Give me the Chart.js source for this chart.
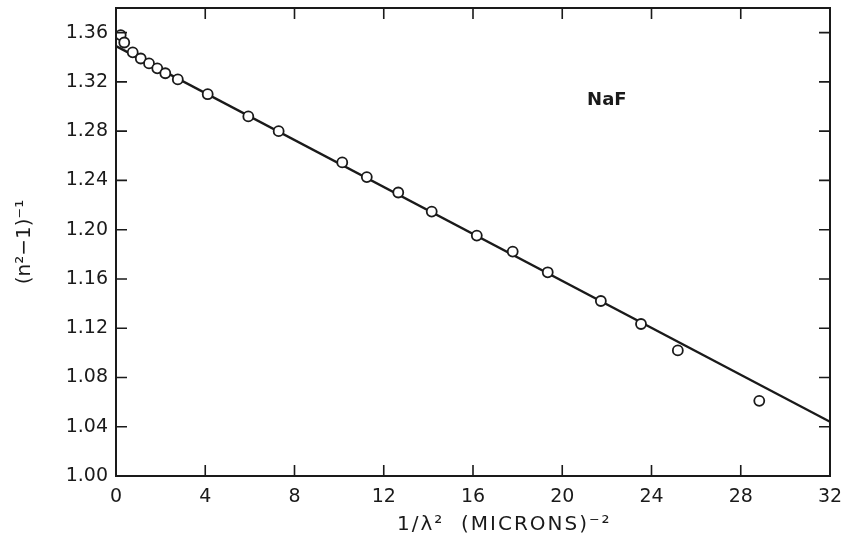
<!DOCTYPE html>
<html lang="en">
<head>
  <meta charset="UTF-8">
  <title>NaF dispersion</title>
  <script src="https://cdn.jsdelivr.net/npm/chart.js"></script>
  <style>
    html, body { margin: 0; padding: 0; background: #fff; }
    #wrap { width: 843px; height: 546px; }
  </style>
</head>
<body>
  <div id="wrap"><canvas id="nafChart" width="843" height="546"></canvas></div>

  <script>
    // measured points, 1/lambda^2 (microns^-2) vs (n^2-1)^-1
    const invLambdaSq = [0.21, 0.37, 0.75, 1.11, 1.48, 1.85, 2.21, 2.77, 4.11, 5.93, 7.29,
      10.14, 11.24, 12.65, 14.15, 16.17, 17.78, 19.35, 21.73, 23.53, 25.18, 28.83];
    const invNSqMinus1 = [1.358, 1.352, 1.344, 1.339, 1.335, 1.331, 1.327, 1.322, 1.310, 1.292, 1.280,
      1.2546, 1.2427, 1.2302, 1.2147, 1.1952, 1.1822, 1.1654, 1.1421, 1.1234, 1.1020, 1.061];

    // fitted straight line (end points)
    const fitX = [0, 32];
    const fitY = [1.349, 1.044];

    const xTicks = [0, 4, 8, 12, 16, 20, 24, 28, 32];
    const yTicks = [1.00, 1.04, 1.08, 1.12, 1.16, 1.20, 1.24, 1.28, 1.32, 1.36];

    const ink = '#1a1a1a';
    const font = { family: 'DejaVu Sans', size: 19 };

    // frame + inward ticks + labels that sit inside the plot
    const framePlugin = {
      id: 'frame',
      afterDraw(chart) {
        const { ctx, chartArea: a, scales: { x, y } } = chart;
        const len = 11;
        ctx.save();
        ctx.strokeStyle = ink;
        ctx.lineWidth = 2;
        ctx.strokeRect(a.left, a.top, a.right - a.left, a.bottom - a.top);
        ctx.lineWidth = 1.6;
        ctx.beginPath();
        xTicks.slice(1, -1).forEach(v => {
          const px = x.getPixelForValue(v);
          ctx.moveTo(px, a.bottom); ctx.lineTo(px, a.bottom - len);
          ctx.moveTo(px, a.top); ctx.lineTo(px, a.top + len);
        });
        yTicks.slice(1).forEach(v => {
          const py = y.getPixelForValue(v);
          ctx.moveTo(a.left, py); ctx.lineTo(a.left + len, py);
          ctx.moveTo(a.right, py); ctx.lineTo(a.right - len, py);
        });
        ctx.stroke();

        ctx.fillStyle = ink;
        ctx.font = 'bold 18px "DejaVu Sans"';
        ctx.textAlign = 'center';
        ctx.textBaseline = 'middle';
        ctx.fillText('NaF', x.getPixelForValue(22), y.getPixelForValue(1.305));

        // x axis title, set right of centre as in the original
        ctx.font = '20px "DejaVu Sans"';
        ctx.letterSpacing = '2px';
        ctx.fillText('1/\u03bb\u00b2  (MICRONS)\u207b\u00b2', x.getPixelForValue(17.4), a.bottom + 49);
        ctx.restore();
      }
    };

    new Chart(document.getElementById('nafChart'), {
      type: 'scatter',
      data: {
        datasets: [
          {
            label: 'fit',
            type: 'line',
            data: fitX.map((v, i) => ({ x: v, y: fitY[i] })),
            borderColor: ink,
            borderWidth: 2.4,
            pointRadius: 0,
            fill: false,
            order: 2
          },
          {
            label: 'NaF',
            data: invLambdaSq.map((v, i) => ({ x: v, y: invNSqMinus1[i] })),
            pointStyle: 'circle',
            pointRadius: 5,
            pointBorderWidth: 1.8,
            pointBorderColor: ink,
            pointBackgroundColor: '#fff',
            order: 1
          }
        ]
      },
      options: {
        responsive: false,
        animation: false,
        layout: { padding: { left: 0, right: 13, top: 8, bottom: 0 } },
        plugins: { legend: { display: false }, tooltip: { enabled: false } },
        scales: {
          x: {
            type: 'linear',
            min: 0,
            max: 32,
            afterBuildTicks: s => { s.ticks = xTicks.map(v => ({ value: v })); },
            afterFit: s => { s.height = 70; s.paddingLeft = 0; s.paddingRight = 0; },
            grid: { display: false, drawTicks: false },
            border: { display: false },
            ticks: { color: ink, font: font, padding: 10, maxRotation: 0,
              callback: v => String(v) }
          },
          y: {
            type: 'linear',
            min: 1.00,
            max: 1.38,
            afterBuildTicks: s => { s.ticks = yTicks.map(v => ({ value: v })); },
            afterFit: s => { s.width = 116; s.paddingTop = 0; s.paddingBottom = 0; },
            grid: { display: false, drawTicks: false },
            border: { display: false },
            ticks: { color: ink, font: font, padding: 8,
              callback: v => Number(v).toFixed(2) },
            title: {
              display: true,
              text: '(n\u00b2\u22121)\u207b\u00b9',
              color: ink,
              font: { family: 'DejaVu Sans', size: 20 },
              padding: { top: 13, bottom: 0 }
            }
          }
        }
      },
      plugins: [framePlugin]
    });
  </script>
</body>
</html>
